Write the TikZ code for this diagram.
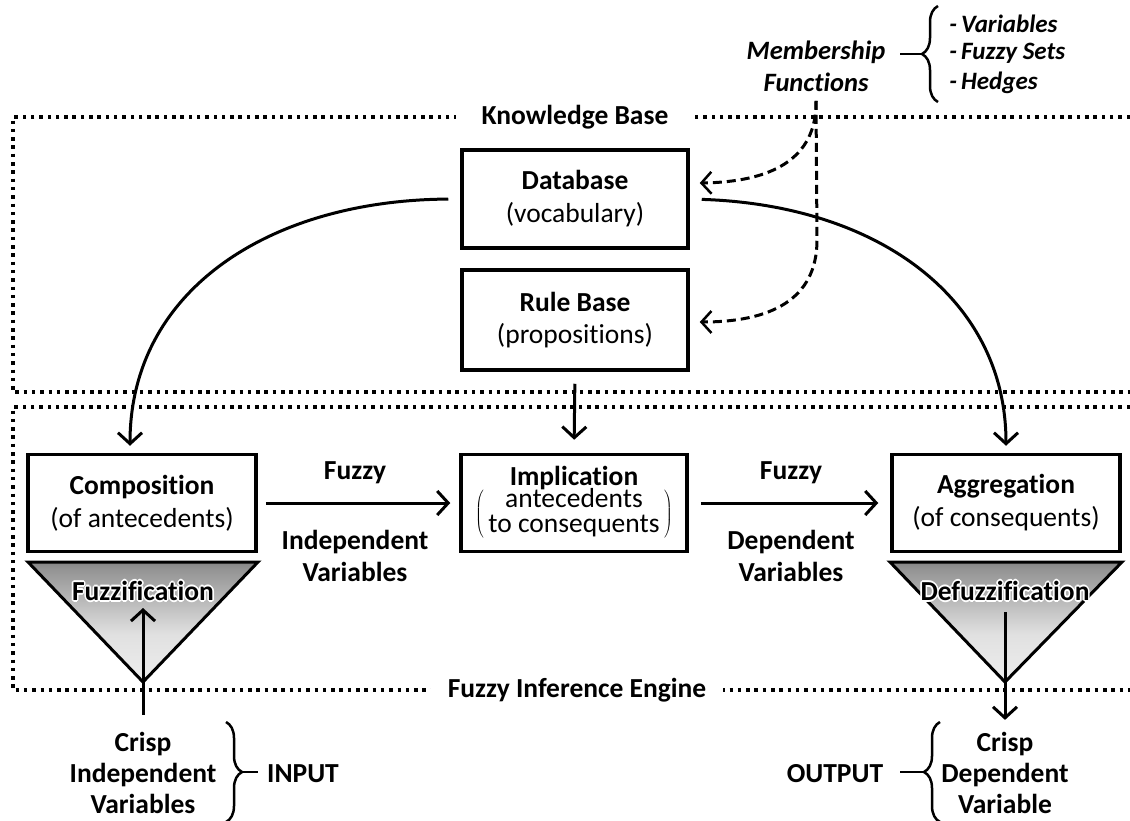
\documentclass[tikz,border=0pt]{standalone}
\usepackage{fontspec}
\setmainfont{Carlito}[Ligatures=NoCommon]
\usetikzlibrary{arrows.meta,decorations.pathreplacing}

\pgfdeclareverticalshading{funnel}{100bp}{color(0bp)=(white); color(45bp)=(black!12); color(72bp)=(black!42); color(100bp)=(black)}

\tikzset{
	unit/.style={draw, line width=3.5pt, minimum width=228pt, minimum height=97pt, align=center, inner sep=0pt},
	kb/.style={line width=3.5pt, dash pattern=on 3.5pt off 4.8pt},
	flow/.style={line width=3pt, -{Straight Barb[length=11pt,width=24pt,line width=3pt]}},
	member/.style={line width=3pt, dash pattern=on 9pt off 5pt, -{Straight Barb[length=10pt,width=22pt,line width=2.5pt]}},
	brc/.style={line width=2.5pt, decorate, decoration={brace,amplitude=16pt}},
	lbl/.style={font=\bfseries, align=center},
}

\begin{document}
\fontsize{27.5}{32}\selectfont
\begin{tikzpicture}[x=1pt,y=-1pt]
\useasboundingbox (0,0) rectangle (1130,820);

% knowledge base and inference engine frames
\draw[kb] (1130,117) -| (13,392) -- (1130,392);
\draw[kb] (1130,407) -| (13,690) -- (1130,690);
\node[lbl, fill=white, inner xsep=26pt] (kbname) at (575,117) {Knowledge Base};
\node[lbl, fill=white, inner xsep=17pt] (fiename) at (577,690) {Fuzzy Inference Engine};

\node[unit, minimum width=226pt, minimum height=98pt] (db) at (575,199) {\textbf{Database}\\[1pt](vocabulary)};
\node[unit, minimum width=226pt, minimum height=100pt] (rb) at (575,320) {\textbf{Rule Base}\\(propositions)};

\node[unit] (comp) at (142,503) {\textbf{Composition}\\[1pt](of antecedents)};
\node[unit, minimum width=226pt] (impl) at (574,503) {\textbf{Implication}\\[-2pt]
	$\left(\vcenter{\hbox{\fontsize{27.5}{25}\selectfont\begin{tabular}{@{\,}c@{\,}}antecedents\\to consequents\end{tabular}}}\right)$};
\node[unit] (aggr) at (1006,503) {\textbf{Aggregation}\\[1pt](of consequents)};

% funnels
\shadedraw[shading=funnel, line width=3pt] (28,562) -- (258,562) -- (143,682) -- cycle;
\shadedraw[shading=funnel, line width=3pt] (890,562) -- (1122,562) -- (1005,682) -- cycle;
\foreach \dx/\dy in {-1.6/0,1.6/0,0/-1.6,0/1.6,-1.1/-1.1,1.1/1.1,-1.1/1.1,1.1/-1.1}{
	\node[lbl, white] at (143+\dx,591+\dy) {Fuzzification};
	\node[lbl, white] at (1005+\dx,591+\dy) {Defuzzification};}
\node[lbl] (fuzz) at (143,591) {Fuzzification};
\node[lbl] (defuzz) at (1005,591) {Defuzzification};

\coordinate (fin) at (143,608);
\coordinate (fout) at (1005,612);

% main flow
\draw[flow, shorten <=8pt, shorten >=9pt] (comp.east) -- (impl.west);
\draw[flow, shorten <=12pt, shorten >=12pt] (impl.east) -- (aggr.west);
\draw[flow, shorten <=12pt, shorten >=13pt] (rb.south) -- (impl.north);
\draw[flow, shorten <=12pt, shorten >=7pt] (db.west) .. controls (270,200) and (130,290) .. ([xshift=-12pt]comp.north);
\draw[flow, shorten <=12pt, shorten >=7pt] (db.east) .. controls (880,205) and (1006,300) .. (aggr.north);

\node[lbl] (fzin) at (355,473) {Fuzzy};
\node[lbl] (varin) at (355,556) {Independent\\Variables};
\node[lbl] (fzout) at (791,473) {Fuzzy};
\node[lbl] (varout) at (791,556) {Dependent\\Variables};

% membership functions
\node[lbl, font=\fontsize{26.5}{32}\selectfont\bfseries\itshape] (mf) at (816,66) {Membership\\Functions};
\coordinate (split) at (817,240);
\draw[member] (mf.south) .. controls (817,160) and (770,182) .. ([shift={(10,-16)}]db.east);
\draw[member] (mf.south) -- (split) .. controls (817,300) and (770,322) .. ([shift={(10,2)}]rb.east);
\draw[brc] (938,102) -- (938,6);
\draw[line width=2.5pt] (922,54) -- (900,54);
\begin{scope}[every node/.style={anchor=west, font=\fontsize{25}{28}\selectfont\bfseries\itshape}]
\node (mfvar) at (940,24) {-\,Variables};
\node (mfset) at (940,53) {-\,Fuzzy Sets};
\node (mfhedge) at (940,83) {-\,Hedges};
\end{scope}

% input / output
\node[lbl, font=\fontsize{27.5}{31}\selectfont\bfseries] (cin) at (143,773) {Crisp\\Independent\\Variables};
\draw[flow, shorten <=8pt] (cin.north) -- (fin);
\draw[brc] (226,722) -- (226,822);
\draw[line width=2.5pt] (242,772) -- (258,772);
\node[lbl] (inp) at (303,774) {INPUT};

\node[lbl, font=\fontsize{27.5}{31}\selectfont\bfseries] (cout) at (1005,773) {Crisp\\Dependent\\Variable};
\draw[flow, shorten >=3pt] (fout) -- (cout.north);
\draw[brc] (940,822) -- (940,722);
\draw[line width=2.5pt] (924,772) -- (900,772);
\node[lbl] (outp) at (835,774) {OUTPUT};

\end{tikzpicture}
\end{document}
